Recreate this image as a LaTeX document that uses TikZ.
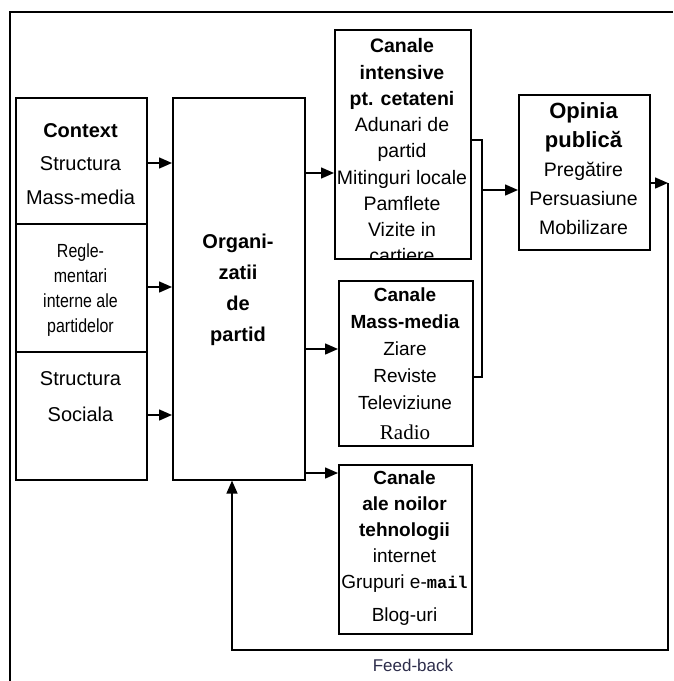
\documentclass[tikz,border=0pt]{standalone}
\usepackage{fontspec}
\setmainfont{Liberation Sans}
\newfontfamily\ncond{Liberation Sans}[FakeStretch=0.84]
\newfontfamily\serifx{Liberation Serif}
\newfontfamily\monox{Liberation Mono}
\usetikzlibrary{arrows.meta}
\definecolor{fbcol}{RGB}{45,45,75}
\begin{document}
\begin{tikzpicture}[x=1pt,y=-1pt,
  box/.style={draw, line width=1.6pt, inner sep=0pt, anchor=north west},
  lbl/.style={align=center, inner sep=0pt},
  arr/.style={-{Triangle[length=13pt,width=11pt]}, line width=1.5pt},
  ln/.style={line width=1.5pt}]
\useasboundingbox (0,0) rectangle (673,681);
% outer frame (top and left only)
\draw[line width=1.6pt] (10,681) -- (10,12) -- (673,12);
% boxes
\node[box, minimum width=131pt, minimum height=126pt] (ctx) at (15,97) {};
\node[box, minimum width=131pt, minimum height=128pt] (reg) at (15,223) {};
\node[box, minimum width=131pt, minimum height=128pt] (soc) at (15,351) {};
\node[box, minimum width=132pt, minimum height=382pt] (org) at (172,97) {};
\node[box, minimum width=136pt, minimum height=229pt] (int) at (334,29) {};
\node[box, minimum width=134pt, minimum height=165pt] (mm) at (338,280) {};
\node[box, minimum width=133pt, minimum height=169pt] (noi) at (338,464) {};
\node[box, minimum width=131pt, minimum height=155pt] (op) at (518,94) {};
% texts
\node[lbl, font=\fontsize{20}{33.5}\selectfont] (ctxT) at (80.5,164)
  {{\bfseries\fontsize{20}{33.5}\selectfont Context}\\Structura\\Mass-media};
\node[lbl, font=\ncond\fontsize{19}{25}\selectfont] (regT) at (80.5,290)
  {Regle-\\mentari\\interne ale\\partidelor};
\node[lbl, font=\fontsize{20}{36}\selectfont] (socT) at (80.5,397)
  {Structura\\Sociala};
\node[lbl, font=\bfseries\fontsize{20}{31}\selectfont] (orgT) at (238,290)
  {Organi-\\zatii\\de\\partid};
\begin{scope}
\clip (int.north west) rectangle (int.south east);
\node[lbl, font=\fontsize{19.5}{26.25}\selectfont] (intT) at (402,151)
  {{\bfseries Canale}\\{\bfseries intensive}\\{\bfseries pt. cetateni}\\Adunari de\\partid\\Mitinguri locale\\Pamflete\\Vizite in\\cartiere};
\end{scope}
\node[lbl, font=\fontsize{19.5}{29}\selectfont] (opT) at (583.5,169)
  {{\bfseries\fontsize{22}{29}\selectfont Opinia}\\{\bfseries\fontsize{22}{29}\selectfont publică}\\Pregătire\\Persuasiune\\Mobilizare};
\node[lbl, font=\fontsize{19}{27}\selectfont] (mmT) at (405,364)
  {{\bfseries Canale}\\{\bfseries Mass-media}\\Ziare\\Reviste\\Televiziune\\[3pt]{\serifx\fontsize{21}{27}\selectfont Radio}};
\node[lbl, font=\fontsize{19}{26}\selectfont] (noiT) at (404.5,548)
  {{\bfseries Canale}\\{\bfseries ale noilor}\\{\bfseries tehnologii}\\internet\\Grupuri e-{\monox\bfseries\fontsize{17}{26}\selectfont mail}\\[7pt]Blog-uri};
\node[lbl, font=\fontsize{17}{19}\selectfont, text=fbcol] (fbT) at (413,665) {Feed-back};
% arrows into organisation
\draw[arr] (ctx.east |- 0,163) -- (org.west |- 0,163);
\draw[arr] (reg.east |- 0,287) -- (org.west |- 0,287);
\draw[arr] (soc.east |- 0,415) -- (org.west |- 0,415);
% arrows out of organisation
\draw[arr] (org.east |- 0,173) -- (int.west |- 0,173);
\draw[arr] (org.east |- 0,349) -- (mm.west |- 0,349);
\draw[arr] (org.east |- 0,473) -- (noi.west |- 0,473);
% junction to public opinion
\coordinate (jT) at (482,140);
\coordinate (jB) at (482,377);
\coordinate (jM) at (482,190);
\draw[ln] (int.east |- jT) -- (jT) -- (jB) -- (mm.east |- jB);
\draw[arr] (jM) -- (op.west |- jM);
% feedback loop
\coordinate (fbR) at (668,183);
\coordinate (fbC) at (668,650);
\coordinate (fbL) at (232,650);
\draw[arr] (op.east |- fbR) -- (fbR);
\draw[arr] (fbR) -- (fbC) -- (fbL) -- (org.south -| fbL);
\end{tikzpicture}
\end{document}
